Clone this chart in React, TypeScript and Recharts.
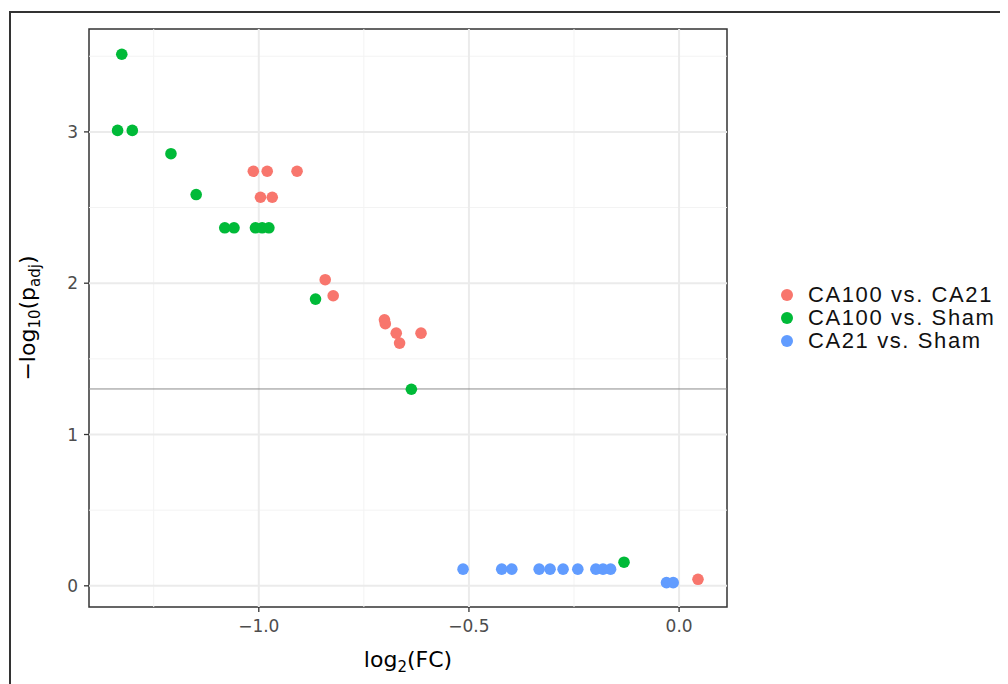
import React from 'react';
import { ScatterChart, Scatter, XAxis, YAxis, ReferenceLine, ReferenceArea } from 'recharts';

const seriesNames = ['CA100 vs. CA21', 'CA100 vs. Sham', 'CA21 vs. Sham'];
const seriesColors = ['#F8766D', '#00BA38', '#619CFF'];

const ca100VsCa21X = [-1.013, -0.980, -0.909, -0.996, -0.968, -0.842, -0.823, -0.701, -0.699, -0.673, -0.665, -0.614, 0.045];
const ca100VsCa21Y = [2.740, 2.740, 2.740, 2.568, 2.568, 2.023, 1.917, 1.758, 1.732, 1.670, 1.604, 1.670, 0.043];

const ca100VsShamX = [-1.326, -1.336, -1.301, -1.209, -1.149, -1.081, -1.059, -1.008, -0.992, -0.976, -0.865, -0.637, -0.131];
const ca100VsShamY = [3.513, 3.010, 3.010, 2.856, 2.586, 2.366, 2.366, 2.366, 2.366, 2.366, 1.895, 1.299, 0.156];

const ca21VsShamX = [-0.514, -0.422, -0.398, -0.333, -0.307, -0.276, -0.241, -0.198, -0.181, -0.163, -0.030, -0.014];
const ca21VsShamY = [0.110, 0.110, 0.110, 0.110, 0.110, 0.110, 0.110, 0.110, 0.110, 0.110, 0.021, 0.021];

const xTicks = [-1, -0.5, 0];
const yTicks = [0, 1, 2, 3];
const xMinor = [-1.25, -0.75, -0.25];
const yMinor = [0.5, 1.5, 2.5, 3.5];
const xDomain: [number, number] = [-1.404, 0.114];
const yDomain: [number, number] = [-0.14, 3.68];
const threshold = 1.301;

const toPoints = (xs: number[], ys: number[]) => xs.map((x, i) => ({ x, y: ys[i] }));
const seriesData = [
  toPoints(ca100VsCa21X, ca100VsCa21Y),
  toPoints(ca100VsShamX, ca100VsShamY),
  toPoints(ca21VsShamX, ca21VsShamY),
];

const FONT = '"DejaVu Sans", "Liberation Sans", Arial, sans-serif';
const LEGEND_FONT = '"Liberation Sans", Arial, sans-serif';

const fmtX = (v: number) => (v < 0 ? '\u2212' : '') + Math.abs(v).toFixed(1);

const XTitle = (props: any) => {
  const vb = props.viewBox || { x: 81, y: 599, width: 638, height: 60 };
  return (
    <text x={vb.x + vb.width / 2} y={vb.y + 60} textAnchor="middle" fontSize={22} fill="#000" fontFamily={FONT}>
      <tspan>log</tspan>
      <tspan fontSize={15} dy={5}>2</tspan>
      <tspan dy={-5}>(FC)</tspan>
    </text>
  );
};

const YTitle = (props: any) => {
  const vb = props.viewBox || { x: 21, y: 21, width: 60, height: 578 };
  const cx = vb.x + 6;
  const cy = vb.y + vb.height / 2;
  return (
    <text x={cx} y={cy} transform={`rotate(-90 ${cx} ${cy})`} textAnchor="middle" fontSize={22} fill="#000" fontFamily={FONT}>
      <tspan>{'\u2212log'}</tspan>
      <tspan fontSize={15} dy={5}>10</tspan>
      <tspan dy={-5}>(p</tspan>
      <tspan fontSize={15} dy={5}>adj</tspan>
      <tspan dy={-5}>)</tspan>
    </text>
  );
};

const makeDot = (color: string) => (p: any) => <circle cx={p.cx} cy={p.cy} r={5.8} fill={color} />;

export default function App() {
  return (
    <div style={{ position: 'relative', width: 1000, height: 676, overflow: 'hidden', background: '#fff' }}>
      <div
        style={{
          position: 'absolute', left: 1, top: 3, width: 1200, height: 900,
          borderTop: '2px solid #333', borderLeft: '2px solid #333',
        }}
      />
      <div style={{ position: 'absolute', left: 0, top: 0 }}>
        <ScatterChart width={1000} height={676} margin={{ top: 21, right: 281, bottom: 17, left: 21 }}>
          {xMinor.map((v) => (
            <ReferenceLine key={'xm' + v} x={v} stroke="#F3F3F3" strokeWidth={1} />
          ))}
          {yMinor.map((v) => (
            <ReferenceLine key={'ym' + v} y={v} stroke="#F3F3F3" strokeWidth={1} />
          ))}
          {xTicks.map((v) => (
            <ReferenceLine key={'xM' + v} x={v} stroke="#EBEBEB" strokeWidth={2} />
          ))}
          {yTicks.map((v) => (
            <ReferenceLine key={'yM' + v} y={v} stroke="#EBEBEB" strokeWidth={2} />
          ))}
          <ReferenceLine y={threshold} stroke="#8C8C8C" strokeWidth={1} />
          <XAxis
            type="number"
            dataKey="x"
            domain={xDomain}
            ticks={xTicks}
            interval={0}
            allowDataOverflow
            axisLine={false}
            tickLine={{ stroke: '#333', strokeWidth: 1.3 }}
            tickSize={5}
            tickMargin={8}
            tickFormatter={fmtX}
            tick={{ fill: '#4D4D4D', fontSize: 17, fontFamily: FONT }}
            height={60}
            label={<XTitle />}
          />
          <YAxis
            type="number"
            dataKey="y"
            domain={yDomain}
            ticks={yTicks}
            interval={0}
            allowDataOverflow
            axisLine={false}
            tickLine={{ stroke: '#333', strokeWidth: 1.3 }}
            tickSize={5}
            tickMargin={6}
            tick={{ fill: '#4D4D4D', fontSize: 17, fontFamily: FONT }}
            width={60}
            label={<YTitle />}
          />
          {seriesData.map((d, i) => (
            <Scatter
              key={seriesNames[i]}
              name={seriesNames[i]}
              data={d}
              fill={seriesColors[i]}
              shape={makeDot(seriesColors[i])}
              isAnimationActive={false}
            />
          ))}
          <ReferenceArea
            x1={xDomain[0]}
            x2={xDomain[1]}
            y1={yDomain[0]}
            y2={yDomain[1]}
            fill="none"
            fillOpacity={0}
            stroke="#333"
            strokeWidth={1.5}
          />
        </ScatterChart>
      </div>
      <div style={{ position: 'absolute', left: 773, top: 275, fontFamily: LEGEND_FONT, fontSize: 22, color: '#111', whiteSpace: 'nowrap' }}>
        {seriesNames.map((n, i) => (
          <div key={n} style={{ display: 'flex', alignItems: 'center', height: 23 }}>
            <span style={{ display: 'inline-block', width: 12, height: 12, borderRadius: '50%', background: seriesColors[i], marginRight: 15 }} />
            <span style={{ letterSpacing: 1.6 }}>{n}</span>
          </div>
        ))}
      </div>
    </div>
  );
}
